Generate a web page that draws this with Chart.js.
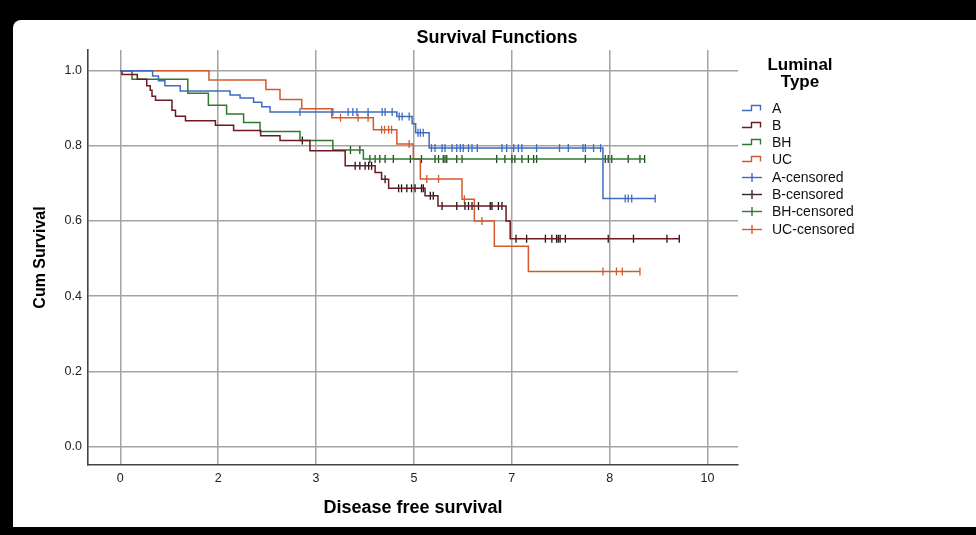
<!DOCTYPE html>
<html>
<head>
<meta charset="utf-8">
<script src="https://cdn.jsdelivr.net/npm/chart.js@4.4.1/dist/chart.umd.min.js"></script>
<style>
  html, body { margin:0; padding:0; background:#000; }
  #page { position:absolute; left:0; top:0; width:976px; height:535px; background:#000; overflow:hidden; font-family:"Liberation Sans", Arial, sans-serif; }
  #inner { position:absolute; left:13px; top:20px; width:963px; height:507px; background:#fff; border-top-left-radius:8px; }
  #chart { position:absolute; left:0; top:0; }
  #title { position:absolute; left:397px; top:27px; width:200px; text-align:center; font-weight:bold; font-size:18px; line-height:20px; color:#000; white-space:nowrap; }
  #legTitle { position:absolute; left:750px; top:56px; width:100px; text-align:center; font-weight:bold; font-size:17px; line-height:17px; color:#000; }
  .leg { position:absolute; left:741px; height:16px; font-size:14px; line-height:16px; color:#111; white-space:nowrap; }
  .leg svg { position:absolute; left:0; top:0; }
  .leg span { position:absolute; left:31px; top:0; }
</style>
</head>
<body>
<div id="page">
  <div id="inner"></div>
  <canvas id="chart" width="976" height="535"></canvas>
  <div id="title">Survival Functions</div>
  <div id="legTitle">Luminal<br>Type</div>
  <div id="legend"></div>
</div>
<script>
// ---- Data (time in years, cumulative survival) ----
const xTickValues = [0, 5/3, 10/3, 5, 20/3, 25/3, 10];
const xTickLabels = ['0', '2', '3', '5', '7', '8', '10'];
const yTickValues = [0, 0.2, 0.4, 0.6, 0.8, 1.0];
const yTickLabels = ['0.0', '0.2', '0.4', '0.6', '0.8', '1.0'];

const groupNames = ['A', 'B', 'BH', 'UC'];

const aTimes = [0, 0.55, 0.65, 0.76, 1.02, 1.87, 2.04, 2.27, 2.41, 2.55, 4.71, 4.97, 5.03, 5.26, 8.22];
const aSurv  = [1.0, 0.986, 0.973, 0.96, 0.946, 0.935, 0.927, 0.916, 0.904, 0.89, 0.878, 0.859, 0.835, 0.794, 0.66];
const aCensored = [3.06, 3.62, 3.88, 3.96, 4.03, 4.22, 4.46, 4.51, 4.63, 4.75, 4.80, 4.92, 5.07, 5.11, 5.16,
  5.30, 5.36, 5.48, 5.53, 5.65, 5.73, 5.79, 5.84, 5.93, 5.99, 6.08, 6.50, 6.58, 6.70, 6.78, 6.84, 7.09,
  7.48, 7.63, 7.88, 7.92, 8.06, 8.18, 8.60, 8.65, 8.71, 9.11];

const bTimes = [0, 0.03, 0.29, 0.45, 0.51, 0.54, 0.60, 0.88, 0.94, 1.11, 1.62, 1.93, 2.39, 2.72, 3.23, 3.83, 4.34, 4.45, 4.57, 5.19, 5.41, 6.57, 6.64];
const bSurv  = [1.0, 0.99, 0.977, 0.96, 0.948, 0.932, 0.921, 0.895, 0.879, 0.867, 0.855, 0.841, 0.827, 0.814, 0.787, 0.747, 0.729, 0.711, 0.687, 0.667, 0.64, 0.60, 0.553];
const bCensored = [3.10, 4.00, 4.08, 4.17, 4.23, 4.28, 4.51, 4.74, 4.79, 4.88, 4.96, 5.02, 5.13, 5.16, 5.28, 5.33,
  5.48, 5.73, 5.87, 5.93, 5.99, 6.10, 6.30, 6.33, 6.44, 6.50, 6.74, 6.92, 7.24, 7.35, 7.43, 7.46, 7.49, 7.58,
  8.31, 8.74, 9.31, 9.52];

const bhTimes = [0, 0.2, 1.15, 1.50, 1.81, 2.10, 2.38, 3.06, 3.62, 4.14];
const bhSurv  = [1.0, 0.977, 0.94, 0.908, 0.885, 0.862, 0.838, 0.814, 0.789, 0.765];
const bhCensored = [3.92, 4.08, 4.25, 4.34, 4.42, 4.51, 4.65, 4.94, 5.13, 5.36, 5.42, 5.50, 5.53, 5.56, 5.73, 5.82,
  6.41, 6.55, 6.67, 6.72, 6.84, 6.95, 7.04, 7.09, 7.92, 8.26, 8.31, 8.37, 8.65, 8.85, 8.93];

const ucTimes = [0, 1.51, 2.48, 2.72, 3.09, 3.60, 4.31, 4.71, 4.99, 5.11, 5.82, 6.03, 6.37, 6.95];
const ucSurv  = [1.0, 0.975, 0.95, 0.923, 0.899, 0.875, 0.843, 0.805, 0.765, 0.712, 0.658, 0.60, 0.533, 0.466];
const ucCensored = [3.75, 4.05, 4.22, 4.45, 4.50, 4.57, 4.62, 4.92, 5.22, 5.42, 5.86, 6.16, 8.22, 8.45, 8.55, 8.85];

// ---- Styles ----
const lineColors = { A:'#3f6cc0', B:'#6e1822', BH:'#2f7a2c', UC:'#d4592f' };
const censorColors = { A:'#3f6cc0', B:'#1c1414', BH:'#1f4a1d', UC:'#d4592f' };

const groups = {
  A:  { times:aTimes,  surv:aSurv,  cens:aCensored },
  B:  { times:bTimes,  surv:bSurv,  cens:bCensored },
  BH: { times:bhTimes, surv:bhSurv, cens:bhCensored },
  UC: { times:ucTimes, surv:ucSurv, cens:ucCensored }
};

function survAt(times, surv, t) {
  let s = surv[0];
  for (let i = 0; i < times.length; i++) { if (times[i] <= t) s = surv[i]; }
  return s;
}
function stepPoints(g) {
  const pts = g.times.map((t, i) => ({ x:t, y:g.surv[i] }));
  const end = Math.max(g.times[g.times.length - 1], ...g.cens);
  pts.push({ x:end, y:g.surv[g.surv.length - 1] });
  return pts;
}

const datasets = [];
groupNames.forEach(n => {
  const g = groups[n];
  datasets.push({
    label:n, data:stepPoints(g), showLine:true, stepped:true,
    borderColor:lineColors[n], borderWidth:1.5, pointRadius:0, pointHoverRadius:0, fill:false
  });
});
groupNames.forEach(n => {
  const g = groups[n];
  datasets.push({
    label:n + '-censored', data:g.cens.map(t => ({ x:t, y:survAt(g.times, g.surv, t) })),
    showLine:false, pointStyle:'line', rotation:90, pointRadius:4, pointHoverRadius:4,
    pointBorderColor:censorColors[n], borderColor:censorColors[n], pointBorderWidth:1.3
  });
});

const tickFont = { family:'"Liberation Sans", Arial, sans-serif', size:12.5 };
const titleFontFamily = '"Liberation Sans", Arial, sans-serif';

new Chart(document.getElementById('chart'), {
  type:'scatter',
  data:{ datasets },
  options:{
    responsive:false, animation:false, devicePixelRatio:1,
    layout:{ padding:{ left:20, top:50, right:238, bottom:0 } },
    plugins:{ legend:{ display:false }, tooltip:{ enabled:false }, title:{ display:false } },
    scales:{
      x:{
        type:'linear', min:-0.55, max:10.52,
        afterBuildTicks:s => { s.ticks = xTickValues.map(v => ({ value:v })); },
        afterFit:s => { s.height = 70; },
        ticks:{ callback:(v, i) => xTickLabels[i], font:tickFont, color:'#222', padding:6, maxRotation:0, autoSkip:false },
        grid:{ color:'#a3a3a3', lineWidth:1.5, drawTicks:false },
        border:{ color:'#444', width:1.6 },
        title:{ display:true, text:'Disease free survival', color:'#000',
          font:{ family:titleFontFamily, size:18, weight:'bold' }, padding:{ top:0, bottom:16 } }
      },
      y:{
        type:'linear', min:-0.049, max:1.055,
        afterBuildTicks:s => { s.ticks = yTickValues.map(v => ({ value:v })); },
        afterFit:s => { s.width = 68; },
        ticks:{ callback:(v, i) => yTickLabels[i], font:tickFont, color:'#222', padding:6, autoSkip:false },
        grid:{ color:'#a3a3a3', lineWidth:1.5, drawTicks:false },
        border:{ color:'#444', width:1.6 },
        title:{ display:true, text:'Cum Survival', color:'#000',
          font:{ family:titleFontFamily, size:16, weight:'bold' }, padding:{ top:11, bottom:0 } }
      }
    }
  }
});

// ---- HTML legend ----
const legendRowsY = [100, 117, 134, 151, 169, 186, 203, 221];
const legend = document.getElementById('legend');
const labels = groupNames.concat(groupNames.map(n => n + '-censored'));
labels.forEach((lab, i) => {
  const n = groupNames[i % 4];
  const div = document.createElement('div');
  div.className = 'leg';
  div.style.top = legendRowsY[i] + 'px';
  let svg;
  if (i < 4) {
    const c = lineColors[n];
    svg = '<svg width="24" height="16"><path d="M1 10.5 H10.5 V5.5 H19.5 V10.5" fill="none" stroke="' + c + '" stroke-width="1.4"/></svg>';
  } else {
    const c = n === 'B' ? '#3a2626' : (n === 'BH' ? lineColors.BH : censorColors[n]);
    svg = '<svg width="24" height="16"><path d="M1 8.5 H21" stroke="' + c + '" stroke-width="1.4"/><path d="M11 4 V13" stroke="' + c + '" stroke-width="1.4"/></svg>';
  }
  div.innerHTML = svg + '<span>' + lab + '</span>';
  legend.appendChild(div);
});
</script>
</body>
</html>
